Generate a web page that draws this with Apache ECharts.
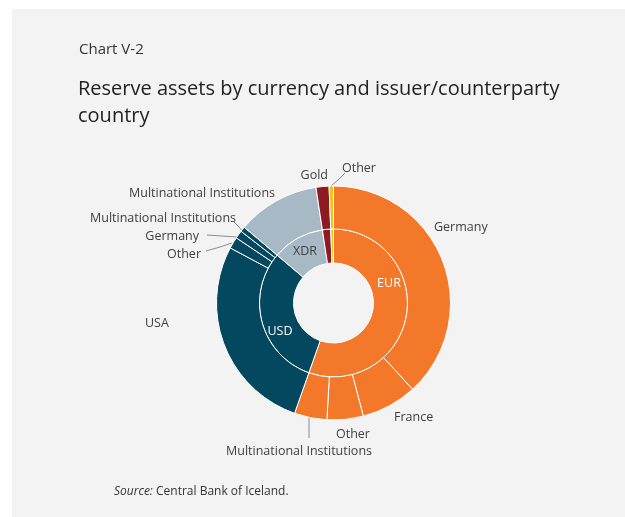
<!DOCTYPE html>
<html lang="en">
<head>
<meta charset="UTF-8">
<script src="https://cdn.jsdelivr.net/npm/echarts@6/dist/echarts.min.js"></script>
<style>
  html, body { margin: 0; padding: 0; background: #ffffff; }
  #chart { width: 625px; height: 517px; }
</style>
</head>
<body>
<div id="chart"></div>
<script>
// inner ring: currency
var currencyNames = ['EUR', 'USD', 'XDR', 'Gold', 'Other'];
var currencyColors = ['#f37829', '#03485f', '#a7b9c4', '#8c1b22', '#f5c21b'];
// outer ring: issuer / counterparty country (share of total, %)
var issuerNames = ['Germany', 'France', 'Other', 'Multinational Institutions',
                   'USA', 'Other', 'Germany', 'Multinational Institutions',
                   'Multinational Institutions', 'Gold', 'Other'];
var issuerCurrency = [0, 0, 0, 0, 1, 1, 1, 1, 2, 3, 4];
var issuerShares = [38.2, 7.7, 5.0, 4.5, 27.4, 1.6, 1.1, 0.7, 11.4, 1.8, 0.6];

var currencyShares = currencyNames.map(function (n, i) {
    var s = 0;
    issuerShares.forEach(function (v, j) { if (issuerCurrency[j] === i) s += v; });
    return Math.round(s * 10) / 10;
});

// label placement (page px): [x, y, align, line points or null]
var outerLabelPos = [
    [434, 227, 'left', null],
    [394, 417, 'left', null],
    [336, 434, 'left', null],
    [299, 451, 'center', [[309, 418], [309, 428], [309, 438]]],
    [145, 323, 'left', null],
    [201, 254, 'right', [[232, 243], [220, 247], [206, 251]]],
    [199, 236, 'right', [[237, 237], [222, 236], [207, 235]]],
    [236, 218, 'right', [[243, 232], [239, 227], [234, 222]]],
    [275, 193, 'right', null],
    [328, 175, 'right', null],
    [342, 168, 'left', [[331, 186], [338, 180], [345, 173]]]
];
var innerLabelPos = [[389, 283], [280, 331], [305, 251]];

var chart = echarts.init(document.getElementById('chart'));
var font = '"Open Sans", "Noto Sans", sans-serif';
var cx = 333.5, cy = 303;

var option = {
    backgroundColor: '#ffffff',
    animation: false,
    textStyle: { fontFamily: font },
    graphic: [
        { type: 'rect', left: 12, top: 9, z: -10, shape: { width: 613, height: 508 }, style: { fill: '#f3f3f3' } },
        { type: 'text', left: 79, top: 42, style: { text: 'Chart V-2', font: '15px ' + font, fill: '#333333' } },
        { type: 'text', left: 78, top: 76, style: { text: 'Reserve assets by currency and issuer/counterparty\ncountry', font: '20px ' + font, lineHeight: 27, fill: '#222222' } },
        { type: 'text', left: 114, top: 486, style: {
            text: '{i|Source:} Central Bank of Iceland.',
            rich: { i: { fontStyle: 'italic', fontSize: 12, fontFamily: font, fill: '#333333' } },
            font: '12px ' + font, fill: '#333333' } }
    ],
    series: [
        {
            type: 'pie',
            center: [cx, cy],
            radius: [40, 74],
            startAngle: 90,
            clockwise: true,
            avoidLabelOverlap: false,
            itemStyle: { borderColor: '#ffffff', borderWidth: 1 },
            label: { position: 'inside', fontSize: 12.5, fontFamily: font },
            labelLine: { show: false },
            emphasis: { disabled: true },
            labelLayout: function (p) {
                var pos = innerLabelPos[p.dataIndex];
                if (!pos) return {};
                return { x: pos[0], y: pos[1], align: 'center', verticalAlign: 'middle' };
            },
            data: currencyNames.map(function (n, i) {
                return {
                    name: n,
                    value: currencyShares[i],
                    itemStyle: { color: currencyColors[i] },
                    label: {
                        show: i < 3,
                        formatter: n,
                        color: i === 2 ? '#404040' : '#ffffff'
                    }
                };
            })
        },
        {
            type: 'pie',
            center: [cx, cy],
            radius: [74, 117],
            startAngle: 90,
            clockwise: true,
            avoidLabelOverlap: false,
            itemStyle: { borderColor: '#ffffff', borderWidth: 1 },
            label: { position: 'outside', fontSize: 12.5, fontFamily: font, color: '#404040' },
            labelLine: { lineStyle: { color: '#8c8c8c', width: 1 } },
            emphasis: { disabled: true },
            labelLayout: function (p) {
                var pos = outerLabelPos[p.dataIndex];
                var o = { x: pos[0], y: pos[1], align: pos[2], verticalAlign: 'middle' };
                if (pos[3]) o.labelLinePoints = pos[3];
                return o;
            },
            data: issuerNames.map(function (n, i) {
                return {
                    name: n,
                    value: issuerShares[i],
                    itemStyle: { color: currencyColors[issuerCurrency[i]] },
                    label: { formatter: n },
                    labelLine: { show: !!outerLabelPos[i][3] }
                };
            })
        }
    ]
};
chart.setOption(option);
</script>
</body>
</html>
